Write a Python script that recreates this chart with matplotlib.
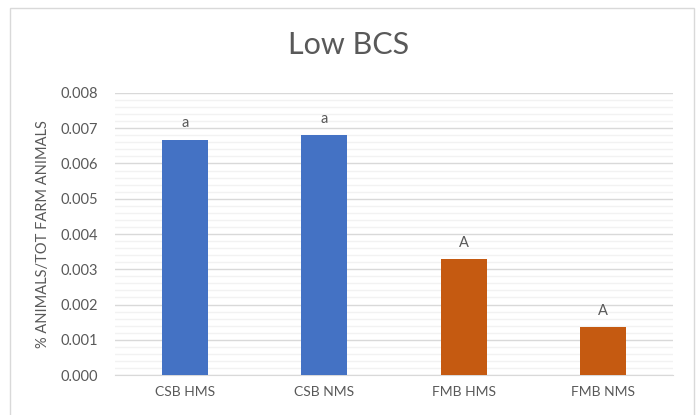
import matplotlib
matplotlib.use("Agg")
import matplotlib.pyplot as plt
from matplotlib.patches import Rectangle
from matplotlib.ticker import MultipleLocator

plt.rcParams['font.family'] = ['Lato', 'DejaVu Sans']

# data
groups = ["CSB HMS", "CSB NMS", "FMB HMS", "FMB NMS"]
values = [0.00668, 0.00680, 0.00330, 0.00137]
letters = ["a", "a", "A", "A"]
colors = ["#4472C4", "#4472C4", "#C55A11", "#C55A11"]

fig = plt.figure(figsize=(6.97, 4.15), dpi=100)
ax = fig.add_axes([115 / 697, 1 - 375 / 415, 558 / 697, 282 / 415])

# chart border
fig.patches.append(Rectangle((10 / 697, 1 - 420 / 415), 684 / 697, 412 / 415,
                             transform=fig.transFigure, fill=False,
                             edgecolor="#D9D9D9", linewidth=1))

x = range(len(groups))
ax.bar(x, values, width=0.33, color=colors, zorder=3)

for i, v in enumerate(values):
    ax.text(i, v + 0.00026, letters[i], ha="center", va="bottom",
            fontsize=10.5, color="#595959")

ax.set_xlim(-0.5, 3.5)
ax.set_ylim(0, 0.008)
ax.yaxis.set_major_locator(MultipleLocator(0.001))
ax.yaxis.set_minor_locator(MultipleLocator(0.0002))
ax.yaxis.set_major_formatter(matplotlib.ticker.FormatStrFormatter("%.3f"))
ax.grid(axis="y", which="major", color="#D9D9D9", linewidth=1, zorder=0)
ax.grid(axis="y", which="minor", color="#F2F2F2", linewidth=1, zorder=0)

ax.set_xticks(list(x))
ax.set_xticklabels(groups)
ax.tick_params(axis="both", which="both", length=0, colors="#595959", labelsize=10)
ax.tick_params(axis="y", pad=12, labelsize=10.5)
ax.tick_params(axis="x", pad=8)

for side in ["top", "right", "left"]:
    ax.spines[side].set_visible(False)
ax.spines["bottom"].set_color("#D9D9D9")

ax.set_ylabel("% ANIMALS/TOT FARM ANIMALS", fontsize=10.5, color="#595959", labelpad=8)

fig.text(0.5, 1 - 45 / 415, "Low BCS", ha="center", va="center",
         fontsize=22, color="#595959")

fig.savefig("out.png", dpi=100)
